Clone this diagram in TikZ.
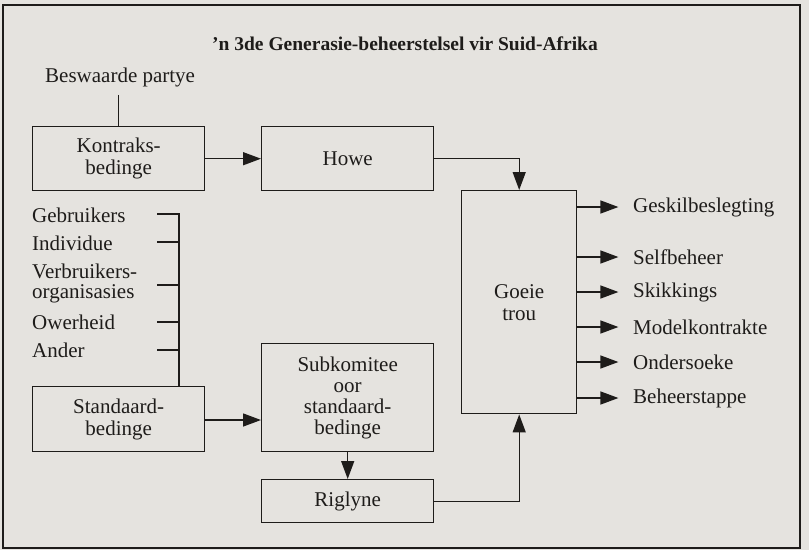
\documentclass[tikz,border=0pt]{standalone}
\usepackage{fontspec}
\setmainfont{Liberation Serif}
\usetikzlibrary{arrows.meta}
\definecolor{bg}{RGB}{229,227,223}
\definecolor{ink}{RGB}{30,28,26}
\begin{document}
\begin{tikzpicture}[x=1pt,y=-1pt,
  every node/.style={font=\fontsize{21}{26}\selectfont, text=ink},
  box/.style={draw=ink, line width=1.4pt, anchor=north west, inner sep=0pt, align=center},
  lbl/.style={anchor=west, inner sep=0pt},
  con/.style={draw=ink, line width=1.4pt},
  arr/.style={con, -{Triangle[length=18pt,width=13pt]}}]
\fill[bg] (0,0) rectangle (809,550);
\useasboundingbox (0,0) rectangle (809,550);
\draw[ink, line width=1.4pt] (3,5) rectangle (800,548);
\node[font=\fontsize{19.5}{24}\selectfont\bfseries] (title) at (405,44) {’n 3de Generasie-beheerstelsel vir Suid-Afrika};
\node[lbl] (besw) at (45,77) {Beswaarde partye};
\node[box, minimum width=172pt, minimum height=64pt] (kon) at (32,126) {Kontraks-\\[-4pt]bedinge};
\node[box, minimum width=172pt, minimum height=64pt] (howe) at (261,126) {Howe};
\node[box, minimum width=115pt, minimum height=223pt] (goeie) at (461,190) {Goeie\\[-4pt]trou};
\node[box, minimum width=172pt, minimum height=65pt] (std) at (32,386) {Standaard-\\[-4pt]bedinge};
\node[box, minimum width=172pt, minimum height=108pt] (sub) at (261,343) {Subkomitee\\[-5pt]oor\\[-5pt]standaard-\\[-5pt]bedinge};
\node[box, minimum width=172pt, minimum height=43pt] (rig) at (261,479) {Riglyne};
% left list
\node[lbl] (geb) at (32,215) {Gebruikers};
\node[lbl] (ind) at (32,243) {Individue};
\node[lbl] (ver) at (32,271) {Verbruikers-};
\node[lbl] (org) at (32,294) {organisasies};
\node[lbl] (owe) at (32,322) {Owerheid};
\node[lbl] (and) at (32,350) {Ander};
\coordinate (bt) at (179,214);
\draw[con] (157,214) -- (bt) -- (std.north -| bt);
\foreach \y in {242,285,322,350} \draw[con] (157,\y) -- (179,\y);
\draw[con] (besw.south -| kon.north) ++(0,8) -- (kon.north);
% outputs
\foreach \y/\t/\n in {207/Geskilbeslegting/o1,257/Selfbeheer/o2,292/Skikkings/o3,327/Modelkontrakte/o4,362/Ondersoeke/o5,398/Beheerstappe/o6}{
  \node[lbl] (\n) at (633,\y) {\t};
  \draw[arr] (goeie.east |- \n.west) -- ++(41,0);
}
\draw[arr] (kon.east) -- (howe.west);
\draw[arr] (howe.east) -| (goeie.north);
\draw[arr] (std.east |- 0,420) -- (sub.west |- 0,420);
\draw[arr] (sub.south) -- (rig.north);
\draw[arr] (rig.east) -| (goeie.south);
\end{tikzpicture}
\end{document}
